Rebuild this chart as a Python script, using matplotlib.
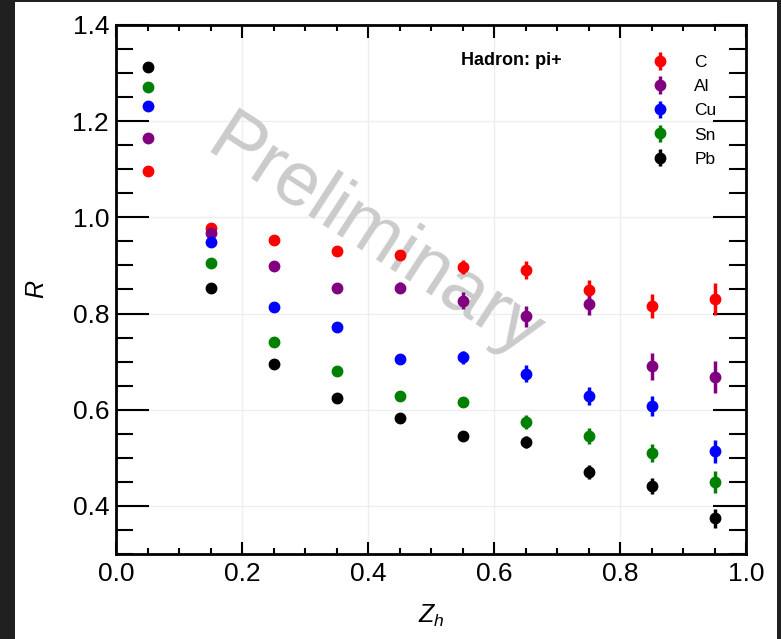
import matplotlib
matplotlib.use("Agg")
import matplotlib.pyplot as plt
from matplotlib.ticker import MultipleLocator
from matplotlib.patches import Rectangle

plt.rcParams["font.family"] = ["Liberation Sans", "DejaVu Sans"]
plt.rcParams["mathtext.fontset"] = "custom"
plt.rcParams["mathtext.it"] = "Liberation Sans:italic"
plt.rcParams["mathtext.rm"] = "Liberation Sans"

zh = [0.05, 0.15, 0.25, 0.35, 0.45, 0.55, 0.65, 0.75, 0.85, 0.95]
targets = ["C", "Al", "Cu", "Sn", "Pb"]
colors = ["red", "purple", "blue", "green", "black"]

r_C = [1.097, 0.978, 0.952, 0.931, 0.921, 0.896, 0.890, 0.848, 0.815, 0.830]
r_Al = [1.166, 0.967, 0.899, 0.854, 0.854, 0.827, 0.794, 0.820, 0.690, 0.668]
r_Cu = [1.231, 0.949, 0.814, 0.773, 0.706, 0.709, 0.675, 0.629, 0.608, 0.514]
r_Sn = [1.272, 0.905, 0.740, 0.680, 0.629, 0.616, 0.575, 0.545, 0.510, 0.450]
r_Pb = [1.313, 0.854, 0.695, 0.624, 0.582, 0.546, 0.533, 0.470, 0.441, 0.374]

e_C = [0.002, 0.003, 0.004, 0.006, 0.010, 0.0145, 0.019, 0.021, 0.025, 0.033]
e_Al = [0.002, 0.003, 0.004, 0.006, 0.012, 0.017, 0.021, 0.022, 0.028, 0.034]
e_Cu = [0.002, 0.003, 0.004, 0.005, 0.009, 0.013, 0.017, 0.019, 0.021, 0.024]
e_Sn = [0.002, 0.002, 0.003, 0.004, 0.006, 0.009, 0.0145, 0.017, 0.019, 0.023]
e_Pb = [0.002, 0.002, 0.003, 0.004, 0.005, 0.007, 0.0125, 0.015, 0.017, 0.020]

ratios = [r_C, r_Al, r_Cu, r_Sn, r_Pb]
errors = [e_C, e_Al, e_Cu, e_Sn, e_Pb]

W, H = 781, 639
fig = plt.figure(figsize=(W / 100, H / 100), dpi=100, facecolor="#202020")
# white page inside the dark screenshot frame
fig.patches.append(Rectangle((15 / W, 0), (777 - 15) / W, (H - 2) / H,
                             transform=fig.transFigure, facecolor="white",
                             edgecolor="none", zorder=-10))

ax = fig.add_axes([116 / W, 1 - 554 / H, (746 - 116) / W, (554 - 25) / H])

for name, col, r, e in zip(targets, colors, ratios, errors):
    ax.errorbar(zh, r, yerr=e, fmt="o", color=col, markersize=7.5,
                elinewidth=2.5, capsize=0, label=name, zorder=3)

ax.text(0.41, 0.955, "Preliminary", rotation=-33, fontsize=55,
        color="#cbcbcb", ha="center", va="center", rotation_mode="anchor",
        zorder=1.5)

ax.text(0.627, 1.326, "Hadron: pi+", fontsize=13, fontweight="bold",
        ha="center", va="center")

ax.set_xlim(0, 1)
ax.set_ylim(0.3, 1.4)
ax.xaxis.set_major_locator(MultipleLocator(0.2))
ax.xaxis.set_minor_locator(MultipleLocator(0.05))
ax.yaxis.set_major_locator(MultipleLocator(0.2))
ax.yaxis.set_minor_locator(MultipleLocator(0.05))
ax.set_yticks([0.4, 0.6, 0.8, 1.0, 1.2, 1.4])

ax.tick_params(axis="both", which="both", direction="in", top=True, right=True,
               labelsize=19, width=1.5)
ax.tick_params(axis="x", which="major", length=9, pad=6)
ax.tick_params(axis="x", which="minor", length=4.5)
ax.tick_params(axis="y", which="major", length=24, pad=5)
ax.tick_params(axis="y", which="minor", length=12)
for s in ax.spines.values():
    s.set_linewidth(2)

ax.grid(True, which="major", color="#eeeeee", linewidth=1)
ax.set_axisbelow(True)

ax.set_xlabel("$Z_h$", fontsize=18, labelpad=12)
ax.set_ylabel("$R$", fontsize=18, labelpad=17)

ax.legend(loc="upper left", bbox_to_anchor=(0.83, 0.96), frameon=False,
          fontsize=12.5, handlelength=1.4, handletextpad=1.3,
          labelspacing=0.52, borderpad=0)

fig.savefig("out.png", dpi=100, facecolor=fig.get_facecolor())
